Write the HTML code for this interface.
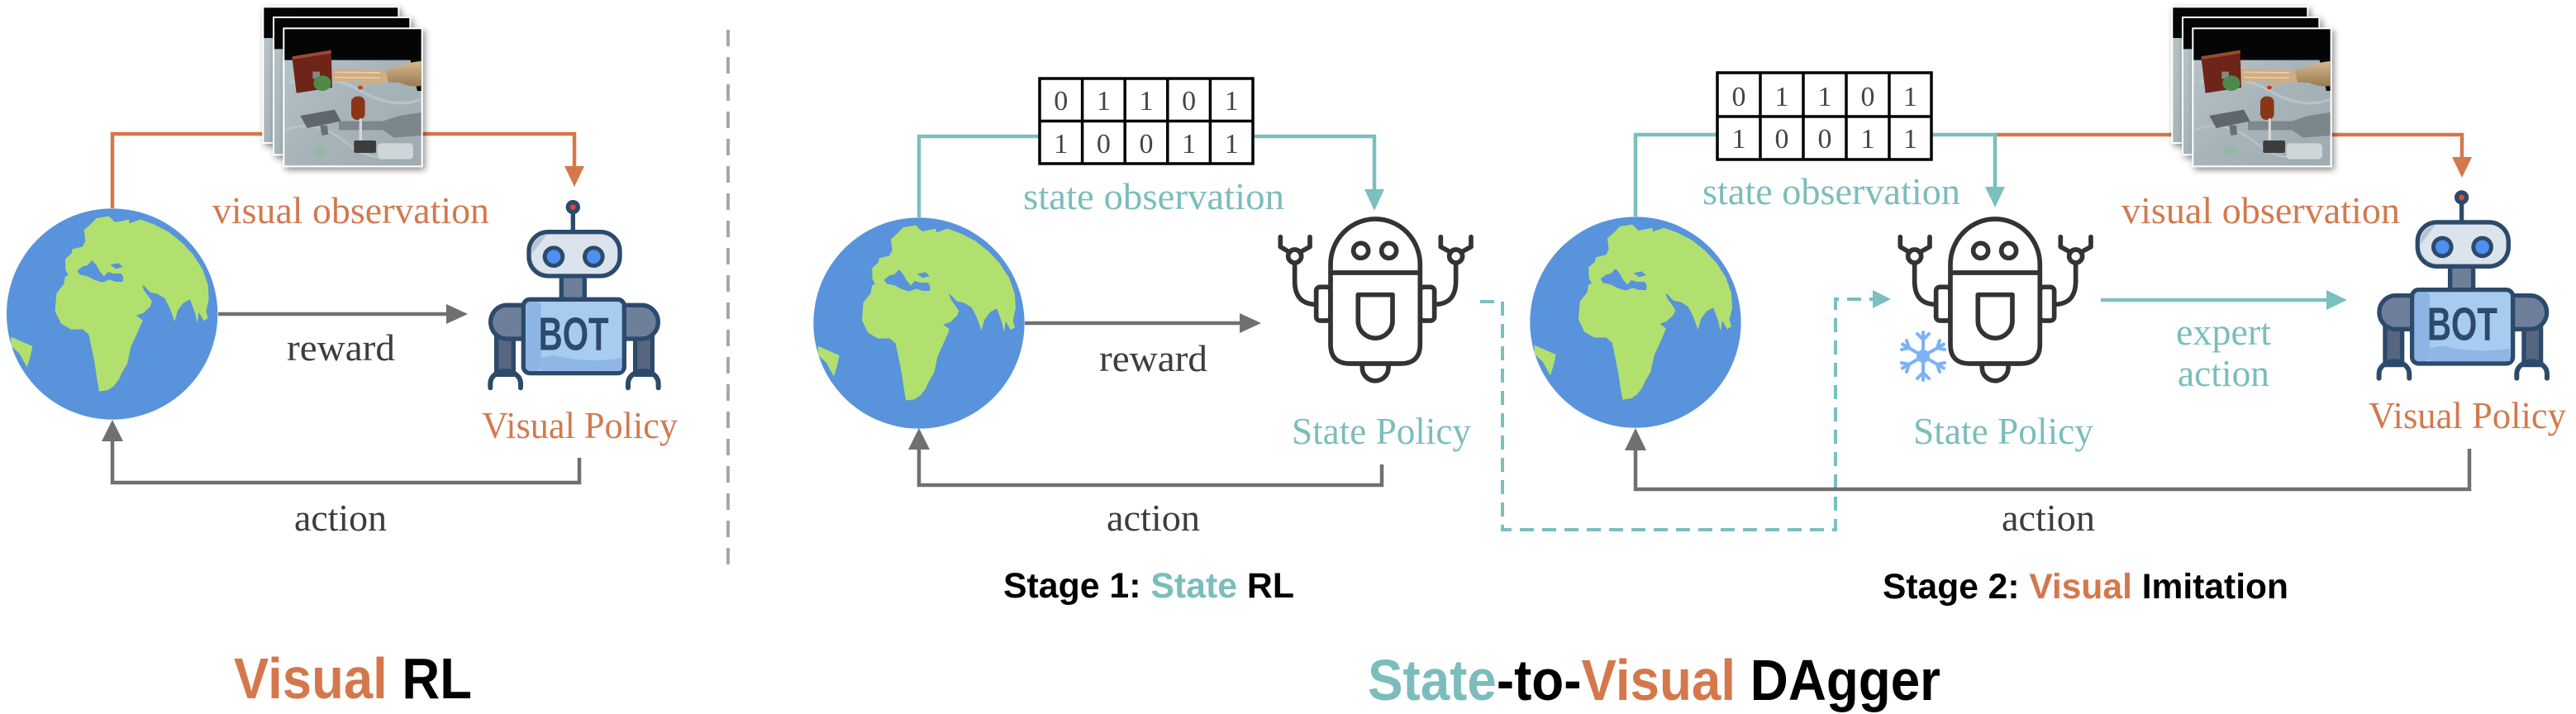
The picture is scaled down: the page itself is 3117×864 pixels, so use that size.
<!DOCTYPE html>
<html><head><meta charset="utf-8">
<style>
html,body{margin:0;padding:0;background:#fff;}
svg{display:block;}
.lbl{font-family:"Liberation Serif",serif;font-size:46px;}
.ttl{font-family:"Liberation Sans",sans-serif;font-weight:bold;}
.dg{font-family:"Liberation Serif",serif;font-size:34px;fill:#444;text-anchor:middle;}
</style></head>
<body>
<svg width="3117" height="864" viewBox="0 0 3117 864" xmlns="http://www.w3.org/2000/svg">
<defs>
  <clipPath id="gc"><circle cx="407" cy="405" r="383"/></clipPath>
  <g id="globe">
    <circle cx="407" cy="405" r="383" fill="#5893dc"/>
    <g clip-path="url(#gc)">
      <path fill="#b2e06f" d="M237,205 L260,185 L262,170 L300,160 L310,140 L305,100 L330,78 L350,57 L395,50 L418,72 L455,65 L468,62 L470,76 L510,62 L560,80 L612,107 L660,145 L700,188 L735,242 L755,300 L758,352 L748,395 L755,420 L740,430 L722,398 L716,438 L708,402 L690,352 L666,364 L645,392 L634,432 L616,382 L598,348 L572,332 L545,326 L528,308 L516,298 L522,318 L538,340 L552,360 L545,378 L520,402 L495,410 L518,428 L500,470 L475,525 L462,585 L440,622 L432,642 L412,668 L390,682 L360,686 L352,640 L344,585 L334,535 L322,478 L300,460 L258,461 L222,440 L200,395 L205,330 L232,296 L236,270 L248,262 L238,245 Z"/>
      <path fill="#5893dc" d="M280,248 L300,232 L318,228 L335,210 L350,228 L362,250 L378,268 L392,252 L412,258 L440,258 L448,272 L446,288 L420,288 L398,280 L372,290 L345,282 L318,268 L290,262 Z"/>
      <path fill="#5893dc" d="M400,226 L430,220 L446,234 L420,241 Z"/>
      <path fill="#b2e06f" d="M40,488 L118,522 L110,560 L98,598 L70,548 L40,520 Z"/>
    </g>
  </g>

  <filter id="sh" x="-20%" y="-20%" width="150%" height="150%">
    <feDropShadow dx="8" dy="10" stdDeviation="12" flood-color="#000" flood-opacity="0.45"/>
  </filter>
  <linearGradient id="marble" x1="0" y1="0" x2="1" y2="1">
    <stop offset="0" stop-color="#b9c6cb"/>
    <stop offset="0.5" stop-color="#a7b5bb"/>
    <stop offset="1" stop-color="#9eacb2"/>
  </linearGradient>
  <linearGradient id="arm" x1="0" y1="0" x2="0" y2="1">
    <stop offset="0" stop-color="#d7b98e"/>
    <stop offset="1" stop-color="#9a7a52"/>
  </linearGradient>
  <g id="photo">
    <rect x="22" y="22" width="498" height="500" fill="#fff" filter="url(#sh)"/>
    <rect x="28" y="28" width="486" height="488" fill="url(#marble)"/>
    <rect x="28" y="28" width="486" height="110" fill="#050505"/>
    <rect x="60" y="60" width="502" height="505" fill="#fff" filter="url(#sh)"/>
    <rect x="66" y="66" width="490" height="493" fill="url(#marble)"/>
    <rect x="66" y="66" width="490" height="112" fill="#050505"/>
    <rect x="97" y="100" width="508" height="507" fill="#fff" filter="url(#sh)"/>
    <g>
      <rect x="103" y="106" width="496" height="495" fill="url(#marble)"/>
      <rect x="103" y="106" width="496" height="112" fill="#050505"/>
      <polygon points="560,218 599,218 599,330 585,330" fill="#050505"/>
      <path d="M120,300 Q260,260 380,330 T600,360" stroke="#c3ced2" stroke-width="10" fill="none" opacity="0.6"/>
      <path d="M110,470 Q220,430 330,520 T560,540" stroke="#c0cbd0" stroke-width="8" fill="none" opacity="0.6"/>
      <polygon points="160,420 285,398 308,440 185,465" fill="#5f676c"/>
      <polygon points="232,455 258,455 262,488 238,492" fill="#6a7176"/>
      <polygon points="300,440 460,440 520,420 599,408 599,492 500,500 460,472 300,472" fill="#6f797e" opacity="0.75"/>
      <polygon points="130,205 272,182 276,318 146,338" fill="#6e2418"/>
      <polygon points="130,205 272,182 272,194 132,216" fill="#9a4a30"/>
      <rect x="205" y="260" width="26" height="26" fill="#888"/>
      <ellipse cx="240" cy="302" rx="32" ry="28" fill="#4f8a4a"/>
      <polygon points="278,250 440,250 480,262 500,272 470,300 420,302 380,318 362,310 400,292 278,296" fill="#d0ad84"/>
      <path d="M470,255 L520,240 Q560,225 599,222 L599,312 Q560,318 520,300 L480,298 Z" fill="url(#arm)"/>
      <line x1="285" y1="262" x2="450" y2="264" stroke="#e8cfa8" stroke-width="5"/>
      <line x1="285" y1="281" x2="450" y2="283" stroke="#e8cfa8" stroke-width="5"/>
      <ellipse cx="378" cy="318" rx="9" ry="7" fill="#c23a2a"/>
      <rect x="345" y="350" width="50" height="85" rx="22" fill="#8b3516"/>
      <rect x="374" y="430" width="10" height="85" fill="#d6d6d6"/>
      <rect x="355" y="510" width="80" height="45" rx="6" fill="#3c3c3c"/>
      <rect x="440" y="520" width="130" height="58" rx="14" fill="#cfd6da"/>
      <circle cx="235" cy="550" r="22" fill="#8fb89a" opacity="0.6"/>
    </g>
  </g>

  <g id="bot">
    <g stroke="#2c4a6b" stroke-width="16" stroke-linejoin="round">
      <rect x="92" y="520" width="62" height="150" fill="#56667e"/>
      <rect x="596" y="520" width="62" height="150" fill="#56667e"/>
      <path d="M200,418 L130,418 A58,60 0 0 0 130,540 L200,540 Z" fill="#6e8099"/>
      <path d="M550,418 L620,418 A58,60 0 0 1 620,540 L550,540 Z" fill="#6e8099"/>
      <rect x="328" y="300" width="84" height="100" fill="#6e8099"/>
      <rect x="210" y="152" width="330" height="160" rx="70" fill="#dbe3ec"/>
      <rect x="190" y="397" width="366" height="268" rx="24" fill="#a8cbf0"/>
    </g>
    <path d="M70,718 L70,702 A55,45 0 0 1 180,702 L180,718" fill="none" stroke="#2c4a6b" stroke-width="18" stroke-linecap="round"/>
    <path d="M570,718 L570,702 A55,45 0 0 1 680,702 L680,718" fill="none" stroke="#2c4a6b" stroke-width="18" stroke-linecap="round"/>
    <rect x="199" y="406" width="55" height="250" rx="14" fill="#8db5e4"/>
    <path d="M254,610 L254,656 L546,656 L546,610 Q420,630 300,600 Z" fill="#8fb7e6"/>
    <path d="M275,162 A64,64 0 0 0 220,232 A64,64 0 0 0 275,302 L265,302 A64,64 0 0 1 220,232 Z" fill="#b7c3d2"/>
    <circle cx="300" cy="242" r="40" fill="#2c4a6b"/>
    <circle cx="300" cy="242" r="25" fill="#4e8ff2"/>
    <circle cx="445" cy="242" r="40" fill="#2c4a6b"/>
    <circle cx="445" cy="242" r="25" fill="#4e8ff2"/>
    <line x1="370" y1="85" x2="370" y2="158" stroke="#2c4a6b" stroke-width="16"/>
    <circle cx="370" cy="62" r="26" fill="#2c4a6b"/>
    <circle cx="370" cy="62" r="10" fill="#e2473b"/>
    <text x="245" y="580" font-family="Liberation Sans, sans-serif" font-weight="bold" font-size="170" fill="#2c4a6b" textLength="255" lengthAdjust="spacingAndGlyphs">BOT</text>
  </g>

  <g id="srobot" fill="#fff" stroke="#333" stroke-width="17" stroke-linejoin="round" stroke-linecap="round">
    <path d="M188,385 Q110,385 110,300 L110,234" fill="none"/>
    <path d="M617,385 Q695,385 695,300 L695,234" fill="none"/>
    <circle cx="110" cy="210" r="24"/>
    <circle cx="695" cy="210" r="24"/>
    <path d="M92,196 L58,176 L58,140" fill="none"/>
    <path d="M128,196 L165,176 L165,140" fill="none"/>
    <path d="M677,196 L640,176 L640,140" fill="none"/>
    <path d="M713,196 L750,176 L750,140" fill="none"/>
    <rect x="188" y="322" width="52" height="122" rx="14"/>
    <rect x="565" y="322" width="52" height="122" rx="14"/>
    <path d="M355,598 L355,615 A47.5,47.5 0 0 0 450,615 L450,598"/>
    <path d="M240,530 L240,240 A162.5,165 0 0 1 565,240 L565,530 Q565,600 495,600 L310,600 Q240,600 240,530 Z"/>
    <line x1="240" y1="270" x2="565" y2="270"/>
    <circle cx="350" cy="190" r="27"/>
    <circle cx="452" cy="190" r="27"/>
    <path d="M340,350 L465,350 L465,445 A62.5,62.5 0 0 1 340,445 Z"/>
  </g>
</defs>

<!-- ================= Visual RL ================= -->
<path d="M136,252 L136,162 L695,162 L695,203" fill="none" stroke="#d4784b" stroke-width="4.5"/>
<polygon points="683,201 707,201 695,226" fill="#d4784b"/>
<use href="#photo" transform="translate(310,0) scale(0.3333)"/>
<use href="#globe" transform="translate(0,245) scale(0.3333)"/>
<line x1="264" y1="380" x2="542" y2="380" stroke="#707070" stroke-width="4.5"/>
<polygon points="540,368 540,392 566,380" fill="#707070"/>
<path d="M701,554 L701,584 L136,584 L136,534" fill="none" stroke="#707070" stroke-width="4.5"/>
<polygon points="123,534 149,534 136,508" fill="#707070"/>
<use href="#bot" transform="translate(570,230) scale(0.3333)"/>
<text class="lbl" x="257" y="270" fill="#d27a4e" textLength="335" lengthAdjust="spacingAndGlyphs">visual observation</text>
<text class="lbl" x="583" y="530" fill="#d27a4e" textLength="237" lengthAdjust="spacingAndGlyphs">Visual Policy</text>
<text class="lbl" x="347" y="436" fill="#3d3d3d" textLength="131" lengthAdjust="spacingAndGlyphs">reward</text>
<text class="lbl" x="356" y="642" fill="#3d3d3d" textLength="112" lengthAdjust="spacingAndGlyphs">action</text>
<text class="ttl" x="283" y="845" font-size="70" textLength="288" lengthAdjust="spacingAndGlyphs"><tspan fill="#d4784b">Visual</tspan><tspan fill="#000"> RL</tspan></text>

<!-- divider -->
<line x1="881" y1="36" x2="881" y2="690" stroke="#a8a8a8" stroke-width="4" stroke-dasharray="20 13"/>

<!-- ================= Stage 1 ================= -->
<path d="M1112,263 L1112,165 L1663,165 L1663,231" fill="none" stroke="#7bbfbf" stroke-width="4.5"/>
<polygon points="1651,229 1675,229 1663,255" fill="#7bbfbf"/>
<g>
  <rect x="1258" y="95" width="258" height="103" fill="#fff" stroke="#000" stroke-width="3.5"/>
  <line x1="1258" y1="146.5" x2="1516" y2="146.5" stroke="#000" stroke-width="3.5"/>
  <line x1="1309.6" y1="95" x2="1309.6" y2="198" stroke="#000" stroke-width="3.5"/>
  <line x1="1361.2" y1="95" x2="1361.2" y2="198" stroke="#000" stroke-width="3.5"/>
  <line x1="1412.8" y1="95" x2="1412.8" y2="198" stroke="#000" stroke-width="3.5"/>
  <line x1="1464.4" y1="95" x2="1464.4" y2="198" stroke="#000" stroke-width="3.5"/>
  <text class="dg" x="1283.8" y="133">0</text><text class="dg" x="1335.4" y="133">1</text><text class="dg" x="1387" y="133">1</text><text class="dg" x="1438.6" y="133">0</text><text class="dg" x="1490.2" y="133">1</text>
  <text class="dg" x="1283.8" y="185">1</text><text class="dg" x="1335.4" y="185">0</text><text class="dg" x="1387" y="185">0</text><text class="dg" x="1438.6" y="185">1</text><text class="dg" x="1490.2" y="185">1</text>
</g>
<use href="#globe" transform="translate(976.3,256) scale(0.3333)"/>
<line x1="1240" y1="391" x2="1502" y2="391" stroke="#707070" stroke-width="4.5"/>
<polygon points="1500,379 1500,403 1526,391" fill="#707070"/>
<path d="M1672,562 L1672,587 L1112,587 L1112,544" fill="none" stroke="#707070" stroke-width="4.5"/>
<polygon points="1099,544 1125,544 1112,518" fill="#707070"/>
<use href="#srobot" transform="translate(1530,240) scale(0.3333)"/>
<text class="lbl" x="1238" y="253" fill="#7bbdbd" textLength="316" lengthAdjust="spacingAndGlyphs">state observation</text>
<text class="lbl" x="1330" y="449" fill="#3d3d3d" textLength="131" lengthAdjust="spacingAndGlyphs">reward</text>
<text class="lbl" x="1563" y="537" fill="#7bbdbd" textLength="217" lengthAdjust="spacingAndGlyphs">State Policy</text>
<text class="lbl" x="1339" y="642" fill="#3d3d3d" textLength="113" lengthAdjust="spacingAndGlyphs">action</text>
<text class="ttl" x="1214" y="723" font-size="43" textLength="352" lengthAdjust="spacingAndGlyphs"><tspan fill="#000">Stage 1: </tspan><tspan fill="#7bbdbd">State</tspan><tspan fill="#000"> RL</tspan></text>

<!-- dashed connector -->
<path d="M1791,365 L1818,365 L1818,641 L2221,641 L2221,362 L2268,362" fill="none" stroke="#7bbfbf" stroke-width="4" stroke-dasharray="17 10"/>
<polygon points="2266,351 2266,373 2288,362" fill="#7bbfbf"/>

<!-- ================= Stage 2 ================= -->
<path d="M2414,163 L2979,163 L2979,192" fill="none" stroke="#d4784b" stroke-width="4.5"/>
<polygon points="2967,190 2991,190 2979,215" fill="#d4784b"/>
<path d="M1979,262 L1979,163 L2414,163 L2414,228" fill="none" stroke="#7bbfbf" stroke-width="4.5"/>
<polygon points="2402,226 2426,226 2414,251" fill="#7bbfbf"/>
<g>
  <rect x="2078" y="88" width="259" height="105" fill="#fff" stroke="#000" stroke-width="3.5"/>
  <line x1="2078" y1="141" x2="2337" y2="141" stroke="#000" stroke-width="3.5"/>
  <line x1="2130" y1="88" x2="2130" y2="193" stroke="#000" stroke-width="3.5"/>
  <line x1="2182" y1="88" x2="2182" y2="193" stroke="#000" stroke-width="3.5"/>
  <line x1="2234" y1="88" x2="2234" y2="193" stroke="#000" stroke-width="3.5"/>
  <line x1="2286" y1="88" x2="2286" y2="193" stroke="#000" stroke-width="3.5"/>
  <text class="dg" x="2104" y="128">0</text><text class="dg" x="2156" y="128">1</text><text class="dg" x="2208" y="128">1</text><text class="dg" x="2260" y="128">0</text><text class="dg" x="2311.5" y="128">1</text>
  <text class="dg" x="2104" y="179">1</text><text class="dg" x="2156" y="179">0</text><text class="dg" x="2208" y="179">0</text><text class="dg" x="2260" y="179">1</text><text class="dg" x="2311.5" y="179">1</text>
</g>
<use href="#photo" transform="translate(2620,0) scale(0.3333)"/>
<use href="#globe" transform="translate(1843.3,255) scale(0.3333)"/>
<path d="M2988,543 L2988,592 L1979,592 L1979,545" fill="none" stroke="#707070" stroke-width="4.5"/>
<polygon points="1966,545 1992,545 1979,518" fill="#707070"/>
<use href="#srobot" transform="translate(2280,240) scale(0.3333)"/>
<g stroke="#7db2f4" stroke-width="4" stroke-linecap="round" fill="none">
  <circle cx="2327" cy="431" r="6"/>
  <line x1="2327" y1="402" x2="2327" y2="460"/>
  <line x1="2302" y1="416.5" x2="2352" y2="445.5"/>
  <line x1="2302" y1="445.5" x2="2352" y2="416.5"/>
  <path d="M2320,404 L2327,411 L2334,404 M2320,458 L2327,451 L2334,458"/>
  <path d="M2301,423 L2310,421 L2307,412 M2353,439 L2344,441 L2347,450"/>
  <path d="M2301,439 L2310,441 L2307,450 M2353,423 L2344,421 L2347,412"/>
</g>
<line x1="2542" y1="363" x2="2817" y2="363" stroke="#7bbfbf" stroke-width="4.5"/>
<polygon points="2815,351 2815,375 2840,363" fill="#7bbfbf"/>
<use href="#bot" transform="translate(2855.3,218.3) scale(0.3333)"/>
<text class="lbl" x="2060" y="247" fill="#7bbdbd" textLength="312" lengthAdjust="spacingAndGlyphs">state observation</text>
<text class="lbl" x="2567" y="270" fill="#d27a4e" textLength="337" lengthAdjust="spacingAndGlyphs">visual observation</text>
<text class="lbl" x="2315" y="537" fill="#7bbdbd" textLength="218" lengthAdjust="spacingAndGlyphs">State Policy</text>
<text class="lbl" x="2633" y="417" fill="#7bbdbd" textLength="115" lengthAdjust="spacingAndGlyphs">expert</text>
<text class="lbl" x="2635" y="467" fill="#7bbdbd" textLength="111" lengthAdjust="spacingAndGlyphs">action</text>
<text class="lbl" x="2866" y="518" fill="#d27a4e" textLength="239" lengthAdjust="spacingAndGlyphs">Visual Policy</text>
<text class="lbl" x="2422" y="642" fill="#3d3d3d" textLength="113" lengthAdjust="spacingAndGlyphs">action</text>
<text class="ttl" x="2278" y="724" font-size="43" textLength="491" lengthAdjust="spacingAndGlyphs"><tspan fill="#000">Stage 2: </tspan><tspan fill="#d4784b">Visual</tspan><tspan fill="#000"> Imitation</tspan></text>

<text class="ttl" x="1655" y="847" font-size="70" textLength="693" lengthAdjust="spacingAndGlyphs"><tspan fill="#7bbdbd">State</tspan><tspan fill="#000">-to-</tspan><tspan fill="#d4784b">Visual</tspan><tspan fill="#000"> DAgger</tspan></text>
</svg>
</body></html>
